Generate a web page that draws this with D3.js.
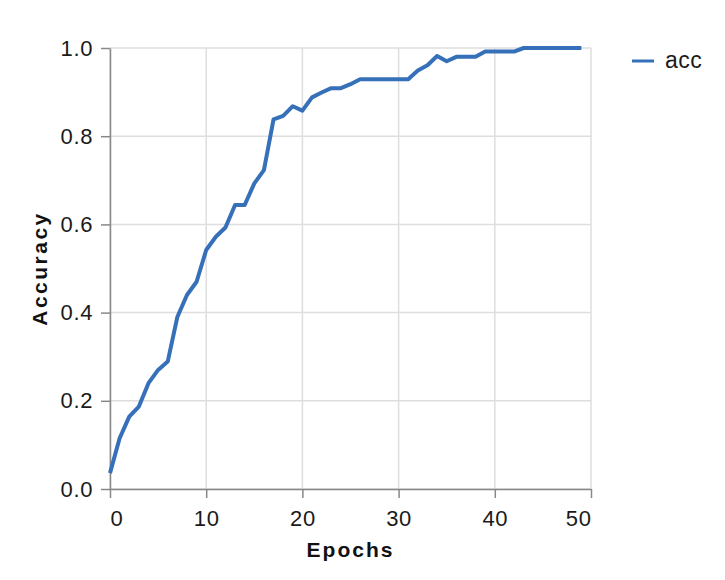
<!DOCTYPE html>
<html>
<head>
<meta charset="utf-8">
<script src="https://cdn.jsdelivr.net/npm/d3@7"></script>
<style>
  body { margin: 0; background: #fff; }
  text { font-family: "Liberation Sans", Arial, sans-serif; }
</style>
</head>
<body>
<div id="graph"></div>
<script>
"use strict";
(function() {
    // accuracy per epoch
    const epochs = d3.range(0, 50);
    const acc = [
        0.036, 0.115, 0.164, 0.187, 0.240, 0.270, 0.289, 0.390, 0.440, 0.470,
        0.542, 0.572, 0.593, 0.644, 0.644, 0.693, 0.723, 0.838, 0.846, 0.868,
        0.858, 0.888, 0.899, 0.909, 0.909, 0.918, 0.929, 0.929, 0.929, 0.929,
        0.929, 0.929, 0.949, 0.961, 0.982, 0.970, 0.980, 0.980, 0.980, 0.992,
        0.992, 0.992, 0.992, 1.000, 1.000, 1.000, 1.000, 1.000, 1.000, 1.000
    ];
    const xTicks = [0, 10, 20, 30, 40, 50];
    const yTicks = [0, 0.2, 0.4, 0.6, 0.8, 1.0];
    const seriesName = "acc";

    const svgSize = { width: 725, height: 580 };
    const plot = { left: 110, right: 591, top: 48, bottom: 489 };
    const lineColor = "#3570b9";

    window.addEventListener("load", init);

    function init() {
        let svg = d3.select("#graph")
            .append("svg")
                .attr("width", svgSize.width)
                .attr("height", svgSize.height);

        let xScale = d3.scaleLinear().domain([0, 50]).range([plot.left, plot.right]);
        let yScale = d3.scaleLinear().domain([0, 1]).range([plot.bottom, plot.top]);

        // grid
        svg.append("g")
            .selectAll("line")
            .data(xTicks)
            .enter()
            .append("line")
                .attr("x1", (d) => xScale(d))
                .attr("x2", (d) => xScale(d))
                .attr("y1", plot.top)
                .attr("y2", plot.bottom)
                .attr("stroke", "#dedede")
                .attr("stroke-width", 1.5);
        svg.append("g")
            .selectAll("line")
            .data(yTicks)
            .enter()
            .append("line")
                .attr("x1", plot.left)
                .attr("x2", plot.right)
                .attr("y1", (d) => yScale(d))
                .attr("y2", (d) => yScale(d))
                .attr("stroke", "#dedede")
                .attr("stroke-width", 1.5);

        // axes
        let xAxis = svg.append("g")
            .attr("transform", "translate(0," + plot.bottom + ")")
            .call(d3.axisBottom(xScale).tickValues(xTicks).tickSize(9).tickPadding(12).tickSizeOuter(0));
        let yAxis = svg.append("g")
            .attr("transform", "translate(" + plot.left + ",0)")
            .call(d3.axisLeft(yScale).tickValues(yTicks).tickFormat(d3.format(".1f")).tickSize(9).tickPadding(8).tickSizeOuter(0));
        [xAxis, yAxis].forEach((ax) => {
            ax.selectAll("path, line").attr("stroke", "#888").attr("stroke-width", 1.5);
            ax.selectAll("text")
                .style("font-family", "'Liberation Sans', Arial, sans-serif")
                .style("font-size", "22px")
                .style("letter-spacing", "0.6px")
                .attr("fill", "#1a1a1a");
        });
        // first and last x labels flush with the plot edges
        xAxis.selectAll(".tick text")
            .attr("text-anchor", (d, i) => i == 0 ? "start" : (i == xTicks.length - 1 ? "end" : "middle"));

        // line
        let line = d3.line()
            .x((d, i) => xScale(epochs[i]))
            .y((d) => yScale(d));
        svg.append("path")
            .datum(acc)
            .attr("d", line)
            .attr("fill", "none")
            .attr("stroke", lineColor)
            .attr("stroke-width", 4)
            .attr("stroke-linejoin", "round");

        // axis titles
        svg.append("text")
            .attr("x", (plot.left + plot.right) / 2)
            .attr("y", 557)
            .attr("text-anchor", "middle")
            .style("font-size", "21px")
            .style("font-weight", "bold")
            .style("letter-spacing", "2px")
            .attr("fill", "#111")
            .text("Epochs");
        svg.append("text")
            .attr("transform", "translate(47," + ((plot.top + plot.bottom) / 2) + ") rotate(-90)")
            .attr("text-anchor", "middle")
            .style("font-size", "21px")
            .style("font-weight", "bold")
            .style("letter-spacing", "2.5px")
            .attr("fill", "#111")
            .text("Accuracy");

        // legend
        let legend = svg.append("g").attr("transform", "translate(632,61)");
        legend.append("line")
            .attr("x1", 0).attr("x2", 22)
            .attr("stroke", lineColor)
            .attr("stroke-width", 3);
        legend.append("text")
            .attr("x", 33)
            .attr("y", 7)
            .style("font-size", "23px")
            .style("letter-spacing", "0.5px")
            .attr("fill", "#1a1a1a")
            .text(seriesName);
    }
})();
</script>
</body>
</html>
